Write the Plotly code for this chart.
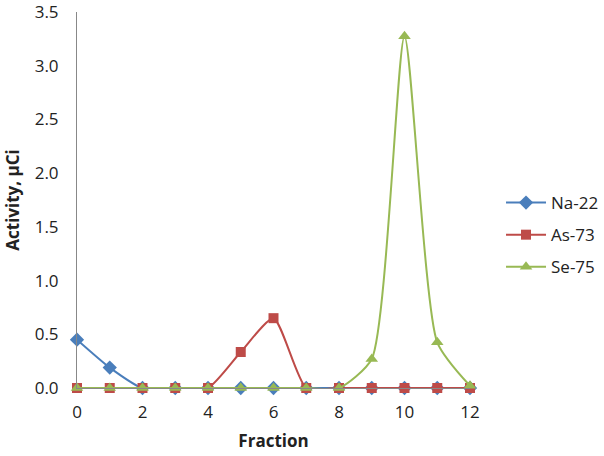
import plotly.graph_objects as go

fractions = [0, 1, 2, 3, 4, 5, 6, 7, 8, 9, 10, 11, 12]
na22 = [0.45, 0.19, 0, 0, 0, 0, 0, 0, 0, 0, 0, 0, 0]
as73 = [0, 0, 0, 0, 0, 0.335, 0.65, 0, 0, 0, 0, 0, 0]
se75 = [0, 0, 0, 0, 0, 0, 0, 0, 0, 0.27, 3.275, 0.425, 0.02]
x_ticks = [0, 2, 4, 6, 8, 10, 12]
y_ticks = [0, 0.5, 1.0, 1.5, 2.0, 2.5, 3.0, 3.5]

FONT = "Open Sans"

fig = go.Figure()
series = [
    ("Na-22", na22, "#4A7EBB", "diamond", 11),
    ("As-73", as73, "#BE4B48", "square", 10),
    ("Se-75", se75, "#98B954", "triangle-up", 11),
]
for name, vals, color, sym, size in series:
    fig.add_trace(go.Scatter(
        x=fractions, y=vals, name=name, mode="lines+markers",
        legendgroup=name,
        line=dict(color=color, width=2, shape="spline", smoothing=0.6),
        marker=dict(color=color, symbol=sym, size=size),
        cliponaxis=False,
    ))

fig.update_layout(
    width=604, height=456,
    margin=dict(l=77, r=134, t=12, b=68),
    paper_bgcolor="white", plot_bgcolor="white",
    font=dict(family=FONT, size=17, color="#222222"),
    legend=dict(xref="container", yref="container", x=0.8295, y=0.4846,
                yanchor="middle", xanchor="left",
                font=dict(size=17), tracegroupgap=7, itemwidth=40,
                bgcolor="rgba(0,0,0,0)"),
    xaxis=dict(
        range=[0, 12], tickvals=x_ticks, ticktext=[str(v) for v in x_ticks],
        showgrid=False, zeroline=False, showline=True, linecolor="#888888",
        ticks="", ticklabelstandoff=9, automargin=False, ticklabeloverflow="allow",
        title=dict(text="<b>Fraction</b>", font=dict(size=17), standoff=12),
    ),
    yaxis=dict(
        range=[0, 3.5], tickvals=y_ticks, ticktext=[f"{v:.1f}" for v in y_ticks],
        showgrid=False, zeroline=False, showline=True, linecolor="#888888",
        ticks="", ticklabelstandoff=14, automargin=False, ticklabeloverflow="allow",
        title=dict(text="<b>Activity, μCi</b>", font=dict(size=17), standoff=10),
    ),
)

fig.write_html("out.html", config={"displayModeBar": False},
               post_script="document.body.style.margin='0';")
